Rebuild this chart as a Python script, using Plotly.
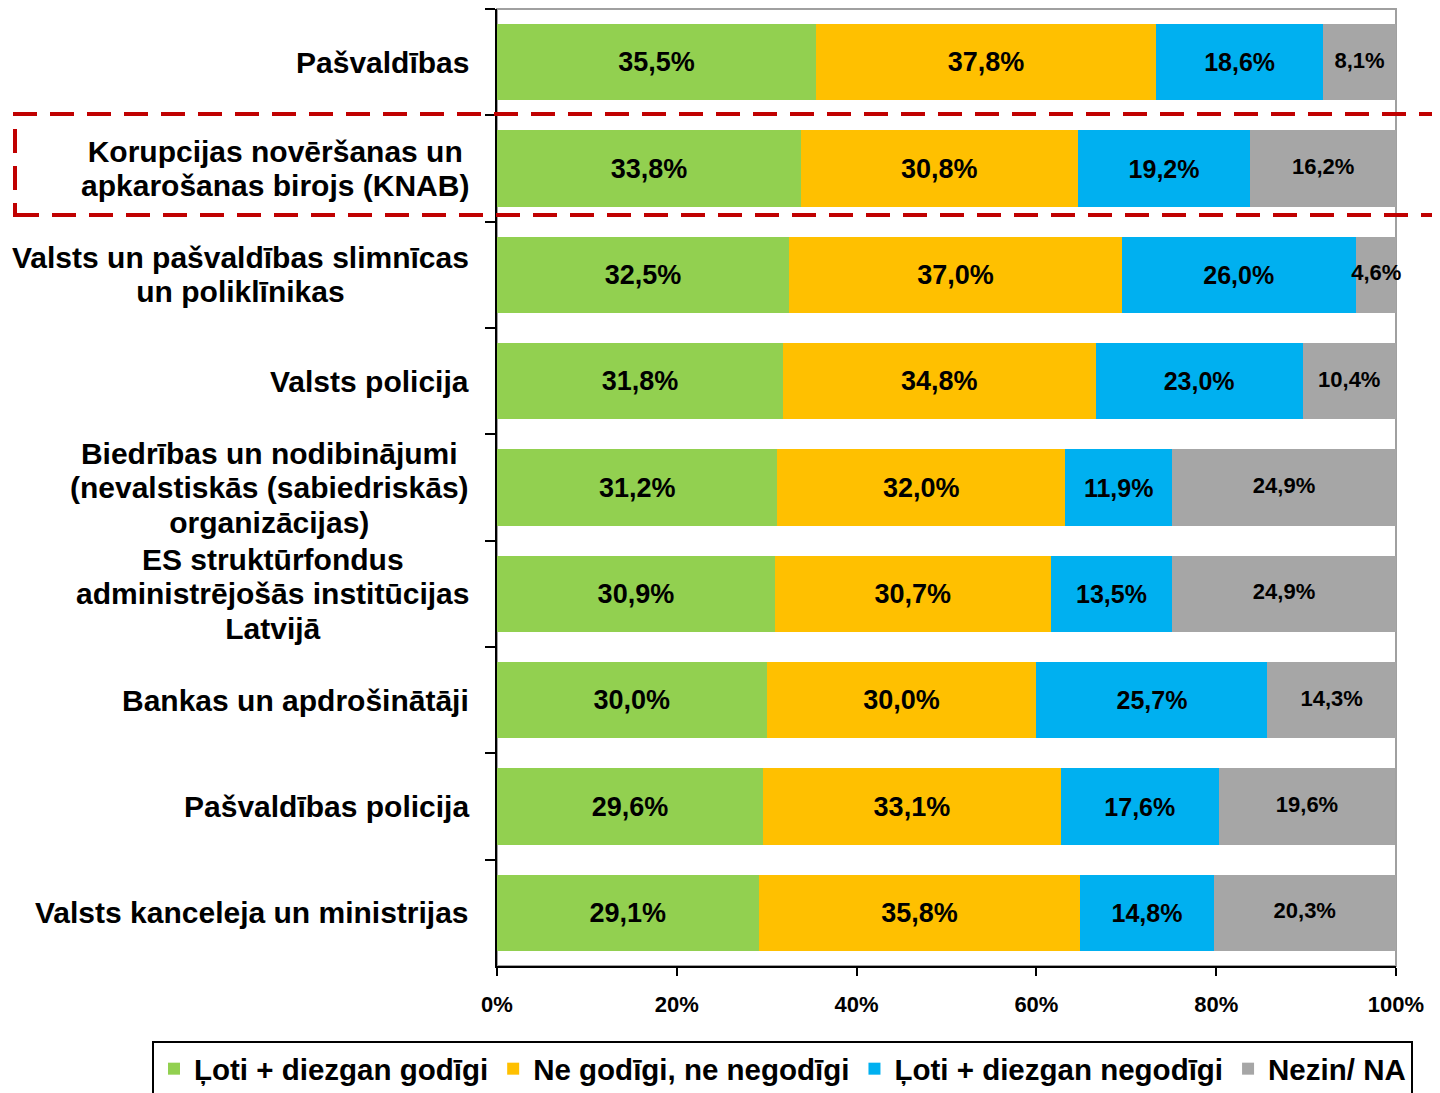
import plotly.graph_objects as go

categories = [
    "Pašvaldības",
    "Korupcijas novēršanas un<br>apkarošanas birojs (KNAB)",
    "Valsts un pašvaldības slimnīcas<br>un poliklīnikas",
    "Valsts policija",
    "Biedrības un nodibinājumi<br>(nevalstiskās (sabiedriskās)<br>organizācijas)",
    "ES struktūrfondus<br>administrējošās institūcijas<br>Latvijā",
    "Bankas un apdrošinātāji",
    "Pašvaldības policija",
    "Valsts kanceleja un ministrijas",
]
series_names = ["Ļoti + diezgan godīgi", "Ne godīgi, ne negodīgi", "Ļoti + diezgan negodīgi", "Nezin/ NA"]
godigi = [35.5, 33.8, 32.5, 31.8, 31.2, 30.9, 30.0, 29.6, 29.1]
neitrali = [37.8, 30.8, 37.0, 34.8, 32.0, 30.7, 30.0, 33.1, 35.8]
negodigi = [18.6, 19.2, 26.0, 23.0, 11.9, 13.5, 25.7, 17.6, 14.8]
nezin = [8.1, 16.2, 4.6, 10.4, 24.9, 24.9, 14.3, 19.6, 20.3]
x_ticks = [0, 20, 40, 60, 80, 100]
x_tick_labels = ["0%", "20%", "40%", "60%", "80%", "100%"]

colors = ["#92D050", "#FFC000", "#00B0F0", "#A6A6A6"]
label_sizes = [27, 27, 25, 22]
series_values = [godigi, neitrali, negodigi, nezin]

FONT = "Liberation Sans, Arial, sans-serif"

fig = go.Figure()
for i, (name, vals, col, fs) in enumerate(zip(series_names, series_values, colors, label_sizes)):
    last = i == len(series_values) - 1
    fig.add_trace(go.Bar(
        y=categories, x=vals, name=name, orientation="h",
        marker=dict(color=col, line=dict(width=0)),
        texttemplate=None if last else "%{x:.1f}%",
        textposition="none" if last else "inside",
        insidetextanchor="middle", textangle=0,
        textfont=dict(family=FONT, size=fs, color="black", weight="bold"),
        cliponaxis=False,
    ))

# labels of the last segment drawn as a text trace so narrow segments can overflow
base = [a + b + c for a, b, c in zip(godigi, neitrali, negodigi)]
fig.add_trace(go.Scatter(
    x=[b + v / 2 for b, v in zip(base, nezin)], y=categories, mode="text",
    text=[f"{v:.1f}%".replace(".", ",") for v in nezin],
    textfont=dict(family=FONT, size=label_sizes[3], color="black", weight="bold"),
    showlegend=False, hoverinfo="skip", cliponaxis=False,
))

OFF = 8  # page body margin
W, H = 1440 - OFF, 1093 - OFF + 20
L, R, T, B = 497 - OFF, 1396 - OFF, 9 - OFF, 966 - OFF
pw, ph = R - L, B - T

def px(x):
    return (x - OFF - L) / pw

def py(y):
    return (B - (y - OFF)) / ph

# category labels: 30px text, line pitch ~34.5px (1.3em of 26.5px base)
LABEL_PX = 30
BASE_PX = 26.5
for c in categories:
    lines = c.split("<br>")
    text = "<br>".join(f"<span style='font-size:{LABEL_PX}px'>{ln}</span>" for ln in lines)
    fig.add_annotation(
        x=px(471), xref="paper", y=c, yref="y", text=text, showarrow=False,
        xanchor="right", yanchor="middle", align="center",
        font=dict(family=FONT, size=BASE_PX, color="black", weight="bold"),
    )

# gray plot border (top/right)
fig.add_shape(type="rect", xref="paper", yref="paper", x0=0, x1=1, y0=0, y1=1,
              line=dict(color="#A0A0A0", width=2), layer="below")
# red dashed highlight box
fig.add_shape(type="rect", xref="paper", yref="paper",
              x0=px(15), x1=px(1437), y0=py(215), y1=py(114),
              line=dict(color="#C00000", width=4, dash="24px,13px"), layer="above")

fig.update_layout(
    width=W, height=H, barmode="stack", bargap=0.28,
    separators=",.",
    paper_bgcolor="white", plot_bgcolor="white",
    margin=dict(l=L, r=W - R, t=T, b=H - B, pad=0),
    showlegend=True,
    legend=dict(orientation="h", x=px(152), xanchor="left", y=py(1041), yanchor="top",
                bordercolor="black", borderwidth=2, bgcolor="white",
                font=dict(family=FONT, size=29.5, color="black", weight="bold"),
                traceorder="normal", itemwidth=30, tracegroupgap=0),
    xaxis=dict(range=[0, 100], tickvals=x_ticks, ticktext=x_tick_labels,
               showgrid=False, zeroline=False,
               showline=True, linecolor="black", linewidth=2,
               ticks="outside", ticklen=8, tickwidth=2, tickcolor="black",
               ticklabelstandoff=10,
               tickfont=dict(family=FONT, size=22, color="black", weight="bold")),
    yaxis=dict(autorange="reversed", showgrid=False, zeroline=False,
               showline=True, linecolor="black", linewidth=2,
               ticks="outside", ticklen=10, tickwidth=2, tickcolor="black",
               tickson="boundaries", showticklabels=False),
)

fig.write_html("out.html")
